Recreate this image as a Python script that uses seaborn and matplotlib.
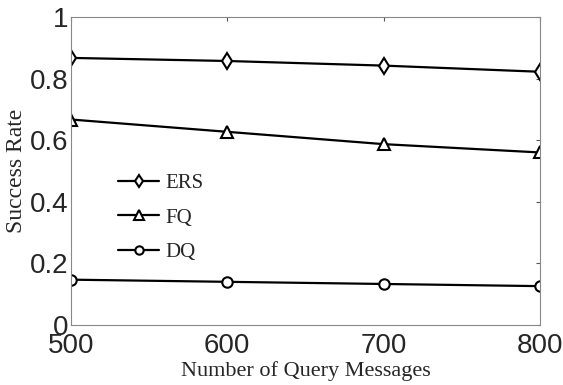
import numpy as np
import pandas as pd
import seaborn as sns
import matplotlib.pyplot as plt

# values
queryMessages = [500, 600, 700, 800]
ersRate = [0.867, 0.857, 0.842, 0.822]
fqRate = [0.667, 0.627, 0.587, 0.560]
dqRate = [0.147, 0.140, 0.133, 0.126]
yTicks = [0, 0.2, 0.4, 0.6, 0.8, 1]
yTickLabels = ['0', '0.2', '0.4', '0.6', '0.8', '1']

sns.set_theme(style="white")

fig = plt.figure(figsize=(5.63, 3.85), dpi=100)
ax = fig.add_axes([0.126, 0.156, 0.833, 0.8])

series = [
    ('ERS', ersRate, 'd', 8),
    ('FQ', fqRate, '^', 8.5),
    ('DQ', dqRate, 'o', 7.5),
]
for name, values, marker, msize in series:
    sns.lineplot(x=queryMessages, y=values, ax=ax, color='black', lw=1.6,
                 marker=marker, markersize=msize, markerfacecolor='white',
                 markeredgecolor='black', markeredgewidth=1.5, label=name)

ax.set_xlim(500, 800)
ax.set_ylim(0, 1)
ax.set_xticks(queryMessages)
ax.set_yticks(yTicks)
ax.set_yticklabels(yTickLabels)
ax.tick_params(axis='both', direction='in', length=3, width=0.8, color='#555555',
               top=True, right=True, labelsize=20, pad=2)
ax.tick_params(axis='x', pad=6)
for lab in ax.get_xticklabels() + ax.get_yticklabels():
    lab.set_family('Liberation Sans')
for spine in ax.spines.values():
    spine.set_color('#888888')
    spine.set_linewidth(0.8)

ax.set_xlabel('Number of Query Messages', family='Liberation Serif', fontsize=16, labelpad=1)
ax.set_ylabel('Success Rate', family='Liberation Serif', fontsize=17, labelpad=2)

ax.legend(loc='upper left', bbox_to_anchor=(0.06, 0.553), frameon=False,
          prop={'family': 'Liberation Serif', 'size': 15}, markerscale=0.8,
          handlelength=2.0, handletextpad=0.3, labelspacing=0.72)

plt.savefig('out.png', dpi=100)
